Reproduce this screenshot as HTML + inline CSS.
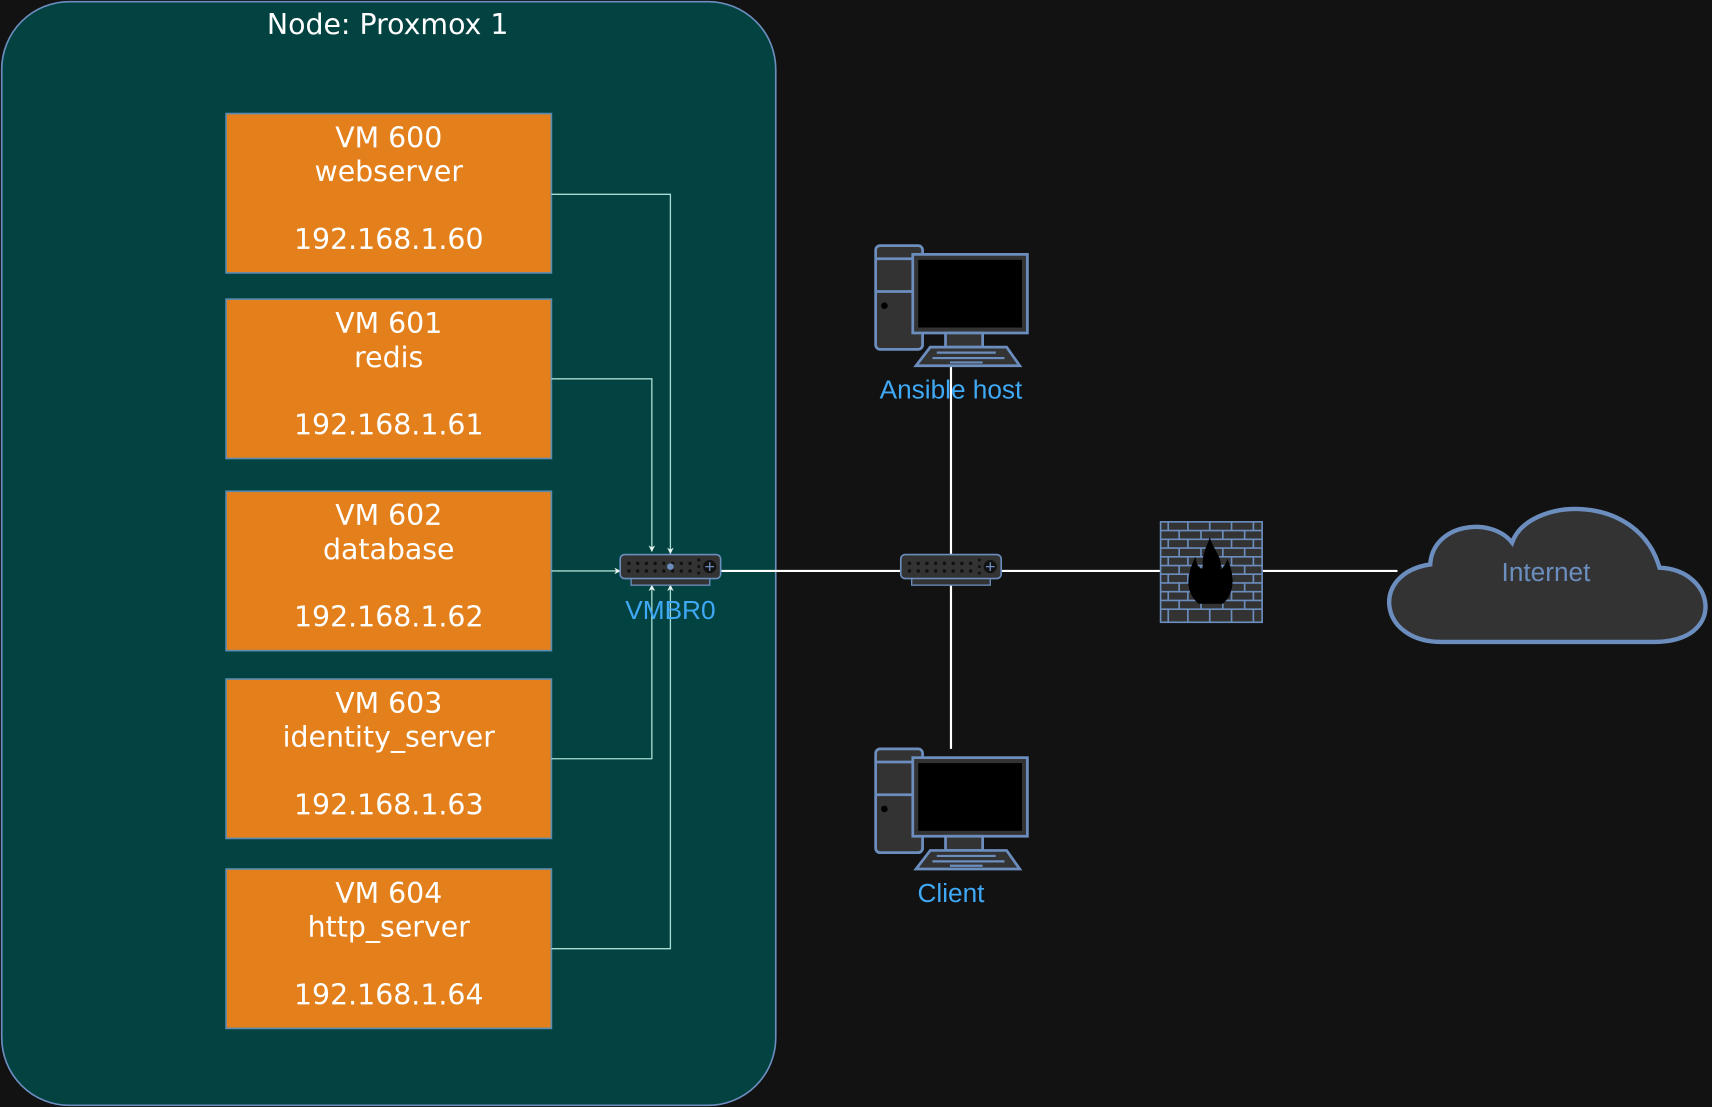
<!DOCTYPE html>
<html><head><meta charset="utf-8"><style>
html,body{margin:0;padding:0;background:#121212;}
svg{display:block;}
text{font-family:"Liberation Sans",sans-serif;}
text.dv,.dv text{font-family:"DejaVu Sans",sans-serif;}
</style></head><body>
<svg width="1712" height="1107" viewBox="0 0 1568 1014" xmlns="http://www.w3.org/2000/svg">
<defs>
<marker id="ah" viewBox="0 0 10 10" refX="9" refY="5" markerWidth="5" markerHeight="5" orient="auto"><path d="M0,0 L10,5 L0,10 L3,5 Z" fill="#e8f4f0"/></marker>
<g id="pc">
<rect x="0" y="0" width="43" height="95" rx="4" fill="#333" stroke="#6c8ebf" stroke-width="2.5"/>
<line x1="0" y1="12" x2="43" y2="12" stroke="#6c8ebf" stroke-width="2.5"/>
<line x1="0" y1="42" x2="43" y2="42" stroke="#6c8ebf" stroke-width="2.5"/>
<circle cx="8" cy="55" r="3" fill="#000"/>
<rect x="34" y="8" width="105" height="72" fill="#333" stroke="#6c8ebf" stroke-width="2.5"/>
<rect x="39" y="13" width="95" height="62" fill="#000"/>
<rect x="64" y="80" width="34" height="13" fill="#333" stroke="#6c8ebf" stroke-width="2.5"/>
<path d="M37,110 L50,93 L120,93 L132,110 Z" fill="#333" stroke="#6c8ebf" stroke-width="2.5"/>
<line x1="56" y1="98" x2="110" y2="98" stroke="#6c8ebf" stroke-width="2"/>
<line x1="52" y1="103" x2="118" y2="103" stroke="#6c8ebf" stroke-width="2"/>
<line x1="68" y1="107" x2="98" y2="107" stroke="#6c8ebf" stroke-width="2"/>
</g>
<g id="sw">
<rect x="0" y="1" width="92" height="22" rx="4" fill="#333" stroke="#6c8ebf" stroke-width="1.5"/>
<rect x="10" y="23" width="72" height="6" fill="#333" stroke="#6c8ebf" stroke-width="1.2"/>
<g fill="#111">
<circle cx="8" cy="9" r="1.6"/><circle cx="16" cy="9" r="1.6"/><circle cx="24" cy="9" r="1.6"/><circle cx="32" cy="9" r="1.6"/><circle cx="40" cy="9" r="1.6"/><circle cx="48" cy="9" r="1.6"/><circle cx="56" cy="9" r="1.6"/><circle cx="64" cy="9" r="1.6"/>
<circle cx="8" cy="16" r="1.6"/><circle cx="16" cy="16" r="1.6"/><circle cx="24" cy="16" r="1.6"/><circle cx="32" cy="16" r="1.6"/><circle cx="40" cy="16" r="1.6"/><circle cx="48" cy="16" r="1.6"/><circle cx="56" cy="16" r="1.6"/><circle cx="64" cy="16" r="1.6"/>
<circle cx="72" cy="6" r="1.4"/><circle cx="72" cy="12" r="1.4"/><circle cx="72" cy="18" r="1.4"/>
<circle cx="82" cy="12" r="6"/>
</g>
<path d="M82,8 V16 M78,12 H86" stroke="#6c8ebf" stroke-width="1.2"/>
</g>
</defs>
<rect width="1568" height="1014" fill="#121212"/>
<rect x="1.5" y="1.5" width="709" height="1011" rx="62" fill="#024241" stroke="#6c8ebf" stroke-width="1.5"/>
<text class="dv" x="355" y="31" font-size="26" fill="#fff" text-anchor="middle">Node: Proxmox 1</text>

<g fill="#e3801c" stroke="#5b8bb0" stroke-width="1.5">
<rect x="207" y="104" width="298" height="146"/>
<rect x="207" y="274" width="298" height="146"/>
<rect x="207" y="450" width="298" height="146"/>
<rect x="207" y="622" width="298" height="146"/>
<rect x="207" y="796" width="298" height="146"/>
</g>
<g class="dv" font-size="26" fill="#fff" text-anchor="middle">
<text x="356" y="135">VM 600</text><text x="356" y="166">webserver</text><text x="356" y="228">192.168.1.60</text>
<text x="356" y="305">VM 601</text><text x="356" y="336">redis</text><text x="356" y="398">192.168.1.61</text>
<text x="356" y="481">VM 602</text><text x="356" y="512">database</text><text x="356" y="574">192.168.1.62</text>
<text x="356" y="653">VM 603</text><text x="356" y="684">identity_server</text><text x="356" y="746">192.168.1.63</text>
<text x="356" y="827">VM 604</text><text x="356" y="858">http_server</text><text x="356" y="920">192.168.1.64</text>
</g>

<g fill="none" stroke="#a8dcd2" stroke-width="1.2" marker-end="url(#ah)">
<path d="M505,178 H614 V507"/>
<path d="M505,347 H597 V505"/>
<path d="M505,523 H568"/>
<path d="M505,695 H597 V536"/>
<path d="M505,869 H614 V536"/>
</g>

<g stroke="#fff" stroke-width="2">
<line x1="660" y1="523" x2="1280" y2="523"/>
<line x1="871" y1="335" x2="871" y2="686"/>
</g>

<use href="#sw" x="568" y="507"/>
<circle cx="614" cy="519" r="3" fill="#6c8ebf"/>
<use href="#sw" x="825" y="507"/>
<text x="614" y="567" font-size="24" fill="#3fa9f5" text-anchor="middle">VMBR0</text>

<use href="#pc" x="802" y="225"/>
<text x="871" y="365" font-size="24" fill="#3fa9f5" text-anchor="middle">Ansible host</text>
<use href="#pc" x="802" y="686"/>
<text x="871" y="826" font-size="24" fill="#3fa9f5" text-anchor="middle">Client</text>

<g>
<rect x="1063" y="478" width="93" height="92" fill="#333" stroke="#6c8ebf" stroke-width="1.5"/>
<g stroke="#6c8ebf" stroke-width="1.5">
<line x1="1063" y1="486" x2="1156" y2="486"/><line x1="1063" y1="494" x2="1156" y2="494"/>
<line x1="1063" y1="502" x2="1156" y2="502"/><line x1="1063" y1="510" x2="1156" y2="510"/>
<line x1="1063" y1="518" x2="1156" y2="518"/><line x1="1063" y1="526" x2="1156" y2="526"/>
<line x1="1063" y1="534" x2="1156" y2="534"/><line x1="1063" y1="542" x2="1156" y2="542"/>
<line x1="1063" y1="550" x2="1156" y2="550"/><line x1="1063" y1="558" x2="1156" y2="558"/>
<path d="M1070,478V486M1088,478V486M1108,478V486M1128,478V486M1148,478V486
M1080,486V494M1100,486V494M1120,486V494M1140,486V494
M1070,494V502M1088,494V502M1108,494V502M1128,494V502M1148,494V502
M1080,502V510M1100,502V510M1120,502V510M1140,502V510
M1070,510V518M1088,510V518M1108,510V518M1128,510V518M1148,510V518
M1080,518V526M1100,518V526M1120,518V526M1140,518V526
M1070,526V534M1088,526V534M1108,526V534M1128,526V534M1148,526V534
M1080,534V542M1100,534V542M1120,534V542M1140,534V542
M1070,542V550M1088,542V550M1108,542V550M1128,542V550M1148,542V550
M1080,550V558M1100,550V558M1120,550V558M1140,550V558
M1070,558V570M1088,558V570M1108,558V570M1128,558V570M1148,558V570"/>
</g>
<path d="M1098,553 C1082,540 1090,520 1095,510 C1096,520 1100,522 1102,520 C1100,508 1106,500 1108,492 C1112,505 1120,510 1118,522 C1122,518 1124,514 1124,512 C1132,528 1130,545 1120,553 Z" fill="#000"/>
</g>

<path d="M1320,588 C1262,588 1255,525 1310,517 C1312,480 1365,472 1385,497 C1400,455 1500,450 1520,520 C1572,522 1582,588 1515,588 Z" fill="#333" stroke="#6c8ebf" stroke-width="4"/>
<text x="1416" y="532" font-size="24" fill="#6c8ebf" text-anchor="middle">Internet</text>
</svg>
</body></html>
